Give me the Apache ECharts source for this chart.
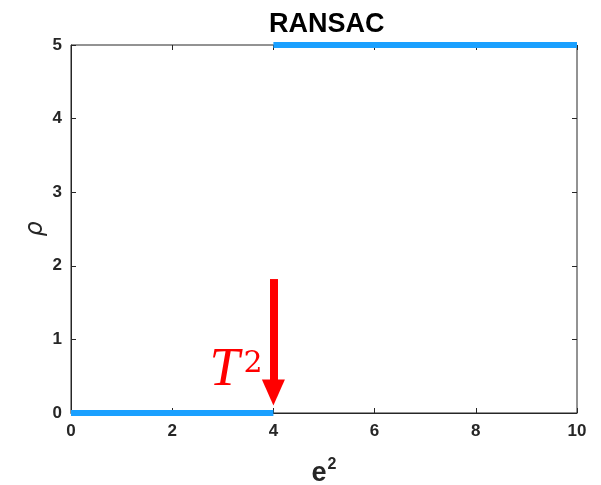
<!DOCTYPE html>
<html>

<head>
    <title>RANSAC</title>
    <meta charset="utf-8">
    <script src="https://cdn.jsdelivr.net/npm/echarts@6/dist/echarts.min.js"></script>
</head>

<body style="margin:0">
    <div id="chart" style="width: 601px;height:485px;"></div>
    <script>
        // step function: rho = 0 below T^2, 5 above
        var lowSegment = [[0, 0], [4, 0]];
        var highSegment = [[4, 5], [10, 5]];
        // red arrow pointing at the threshold
        var arrowX = 4;
        var arrowTop = 1.82;
        var arrowEnd = 0.28;
        var labelPos = [3.26, 0.57];
        var xTicks = [0, 2, 4, 6, 8, 10];
        var yTicks = [0, 1, 2, 3, 4, 5];

        var axisColor = '#262626';
        var lineColor = '#1aa0ff';
        var labelFont = { color: axisColor, fontSize: 17, fontWeight: 'bold', fontFamily: 'Liberation Sans' };

        var chart = echarts.init(document.getElementById('chart'));
        var option = {
            title: {
                text: 'RANSAC',
                left: 264,
                top: 6,
                textStyle: { color: '#000', fontSize: 27, fontWeight: 'bold', fontFamily: 'Liberation Sans' }
            },
            grid: {
                left: 71, right: 24, top: 45, bottom: 72,
                outerBoundsMode: 'none',
                containLabel: false,
                show: true, borderColor: axisColor, borderWidth: 1, backgroundColor: '#fff'
            },
            xAxis: [{
                type: 'value', min: xTicks[0], max: xTicks[xTicks.length - 1], interval: 2,
                splitLine: { show: false },
                axisLine: { onZero: false, lineStyle: { color: axisColor } },
                axisTick: { inside: true, length: 5, lineStyle: { color: axisColor } },
                axisLabel: Object.assign({ margin: 10 }, labelFont),
                name: '{e|e}{s|2}',
                nameLocation: 'middle',
                nameGap: 44,
                nameMoveOverlap: false,
                nameTextStyle: {
                    rich: {
                        e: { fontSize: 27, fontWeight: 'bold', color: axisColor, fontFamily: 'Liberation Sans', lineHeight: 30, verticalAlign: 'bottom' },
                        s: { fontSize: 16, fontWeight: 'bold', color: axisColor, fontFamily: 'Liberation Sans', verticalAlign: 'top', padding: [0, 0, 12, 1] }
                    }
                }
            }, {
                type: 'value', position: 'top', min: 0, max: 10, interval: 2,
                splitLine: { show: false },
                axisLine: { show: false, onZero: false },
                axisTick: { inside: true, length: 5, lineStyle: { color: axisColor } },
                axisLabel: { show: false }
            }],
            yAxis: [{
                type: 'value', min: yTicks[0], max: yTicks[yTicks.length - 1], interval: 1,
                splitLine: { show: false },
                axisLine: { show: true, onZero: false, lineStyle: { color: axisColor } },
                axisTick: { show: true, inside: true, length: 5, lineStyle: { color: axisColor } },
                axisLabel: Object.assign({ margin: 9 }, labelFont),
                name: 'ρ',
                nameLocation: 'middle',
                nameGap: 23,
                nameMoveOverlap: false,
                nameTextStyle: { fontSize: 24, fontStyle: 'italic', color: axisColor, fontFamily: 'DejaVu Sans' }
            }, {
                type: 'value', position: 'right', min: 0, max: 5, interval: 1,
                splitLine: { show: false },
                axisLine: { show: false, onZero: false },
                axisTick: { show: true, inside: true, length: 5, lineStyle: { color: axisColor } },
                axisLabel: { show: false }
            }],
            series: [
                {
                    type: 'line', data: lowSegment, symbol: 'none', clip: false,
                    lineStyle: { color: lineColor, width: 6, cap: 'butt' }
                },
                {
                    type: 'line', data: highSegment, symbol: 'none', clip: false,
                    lineStyle: { color: lineColor, width: 6, cap: 'butt' },
                    markLine: {
                        silent: true,
                        symbol: ['none', 'triangle'],
                        symbolSize: [23, 26],
                        lineStyle: { color: '#ff0000', width: 8, type: 'solid' },
                        label: { show: false },
                        data: [[{ coord: [arrowX, arrowTop] }, { coord: [arrowX, arrowEnd] }]]
                    },
                    markPoint: {
                        silent: true,
                        symbol: 'circle',
                        symbolSize: 0,
                        data: [{ coord: labelPos }],
                        label: {
                            show: true,
                            position: 'inside',
                            formatter: '{t|T}{s|2}',
                            rich: {
                                t: { fontSize: 54, fontStyle: 'italic', color: '#ff0000', fontFamily: 'Liberation Serif', lineHeight: 54, verticalAlign: 'bottom' },
                                s: { fontSize: 30, color: '#ff0000', fontFamily: 'DejaVu Serif', verticalAlign: 'top', padding: [5, 0, 0, 4] }
                            }
                        }
                    }
                }
            ]
        };
        chart.setOption(option);
    </script>
</body>

</html>
